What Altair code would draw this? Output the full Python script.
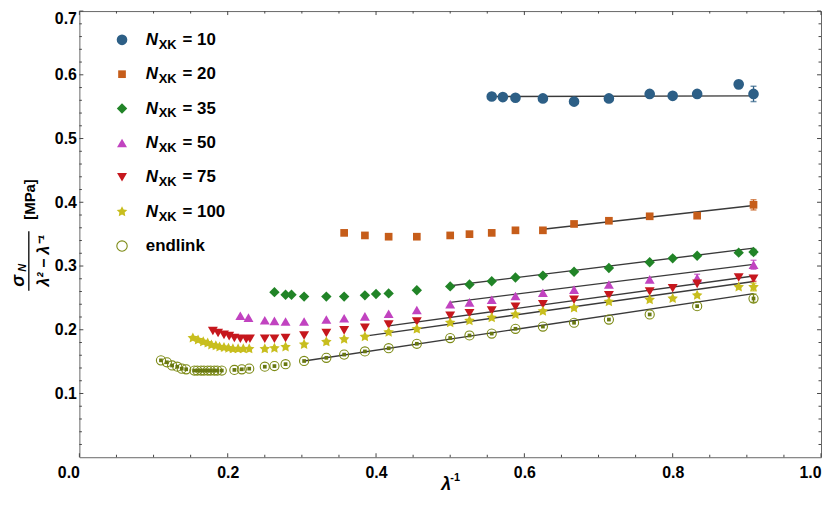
import altair as alt
import pandas as pd

# ---------------- data ----------------
series_names = ["N10", "N20", "N35", "N50", "N75", "N100", "endlink"]
legend_numbers = ["= 10", "= 20", "= 35", "= 50", "= 75", "= 100"]
colors = ["#2d5f86", "#c65d1a", "#218427", "#c143c0", "#c6171d", "#c8be1e", "#7c8a14"]

n10_x = [0.556, 0.571, 0.588, 0.625, 0.667, 0.714, 0.769, 0.800, 0.833, 0.889, 0.909]
n10_y = [0.566, 0.565, 0.564, 0.563, 0.558, 0.563, 0.570, 0.567, 0.570, 0.585, 0.570]

n20_x = [0.357, 0.385, 0.417, 0.455, 0.500, 0.526, 0.556, 0.588, 0.625, 0.667, 0.714, 0.769, 0.833, 0.909]
n20_y = [0.352, 0.348, 0.346, 0.346, 0.348, 0.350, 0.352, 0.356, 0.356, 0.366, 0.371, 0.378, 0.379, 0.396]

n35_x = [0.263, 0.278, 0.286, 0.303, 0.333, 0.357, 0.385, 0.400, 0.417, 0.455, 0.500, 0.526, 0.556,
         0.588, 0.625, 0.667, 0.714, 0.769, 0.800, 0.833, 0.889, 0.909]
n35_y = [0.259, 0.255, 0.255, 0.252, 0.252, 0.252, 0.254, 0.256, 0.257, 0.262, 0.268, 0.271, 0.276,
         0.282, 0.285, 0.291, 0.297, 0.306, 0.312, 0.316, 0.321, 0.322]

n50_x = [0.217, 0.228, 0.250, 0.263, 0.278, 0.303, 0.333, 0.357, 0.385, 0.417, 0.455, 0.500, 0.526,
         0.556, 0.588, 0.625, 0.667, 0.714, 0.769, 0.833, 0.909]
n50_y = [0.222, 0.219, 0.215, 0.214, 0.213, 0.213, 0.216, 0.218, 0.221, 0.225, 0.231, 0.240, 0.243,
         0.247, 0.253, 0.258, 0.263, 0.271, 0.279, 0.281, 0.302]

n75_x = [0.180, 0.187, 0.195, 0.202, 0.209, 0.217, 0.225, 0.230, 0.250, 0.263, 0.278, 0.303, 0.333,
         0.357, 0.385, 0.417, 0.455, 0.500, 0.526, 0.556, 0.588, 0.625, 0.667, 0.714, 0.769, 0.800,
         0.833, 0.889, 0.909]
n75_y = [0.198, 0.195, 0.192, 0.190, 0.187, 0.186, 0.185, 0.186, 0.186, 0.186, 0.187, 0.191, 0.195,
         0.199, 0.203, 0.208, 0.213, 0.222, 0.226, 0.230, 0.236, 0.240, 0.247, 0.254, 0.260, 0.265,
         0.272, 0.282, 0.280]

n100_x = [0.153, 0.160, 0.167, 0.173, 0.178, 0.184, 0.189, 0.195, 0.201, 0.207, 0.214, 0.221, 0.229,
          0.250, 0.263, 0.278, 0.303, 0.333, 0.357, 0.385, 0.417, 0.455, 0.500, 0.526, 0.556, 0.588,
          0.625, 0.667, 0.714, 0.769, 0.800, 0.833, 0.889, 0.909]
n100_y = [0.187, 0.184, 0.181, 0.179, 0.176, 0.175, 0.173, 0.172, 0.171, 0.170, 0.170, 0.170, 0.170,
          0.170, 0.171, 0.173, 0.177, 0.181, 0.185, 0.189, 0.196, 0.201, 0.211, 0.214, 0.219, 0.224,
          0.229, 0.234, 0.244, 0.247, 0.249, 0.254, 0.267, 0.267]

endlink_x = [0.110, 0.118, 0.125, 0.132, 0.138, 0.144, 0.155, 0.159, 0.164, 0.168, 0.173, 0.177, 0.182,
             0.186, 0.192, 0.209, 0.219, 0.229, 0.250, 0.263, 0.278, 0.303, 0.333, 0.357, 0.385, 0.417,
             0.455, 0.500, 0.526, 0.556, 0.588, 0.625, 0.667, 0.714, 0.769, 0.833, 0.909]
endlink_y = [0.152, 0.149, 0.144, 0.142, 0.139, 0.138, 0.136, 0.136, 0.136, 0.136, 0.136, 0.136, 0.136,
             0.136, 0.136, 0.137, 0.138, 0.139, 0.142, 0.143, 0.146, 0.151, 0.156, 0.161, 0.166, 0.171,
             0.178, 0.187, 0.191, 0.194, 0.2015, 0.205, 0.211, 0.216, 0.224, 0.237, 0.249]

# linear fits (start / end)
fit_series = series_names
fit_x0 = [0.556, 0.625, 0.500, 0.500, 0.417, 0.385, 0.303]
fit_y0 = [0.566, 0.3576, 0.269, 0.243, 0.206, 0.190, 0.151]
fit_x1 = [0.909, 0.909, 0.909, 0.909, 0.909, 0.909, 0.909]
fit_y1 = [0.567, 0.395, 0.328, 0.3025, 0.2844, 0.2758, 0.2566]

# visible error bars
err_series = ["N10", "N10", "N20", "N35", "N50", "N50", "N75", "N100", "endlink"]
err_x = [0.889, 0.909, 0.909, 0.909, 0.833, 0.909, 0.909, 0.909, 0.909]
err_lo = [0.580, 0.558, 0.388, 0.318, 0.276, 0.295, 0.276, 0.261, 0.243]
err_hi = [0.591, 0.582, 0.404, 0.326, 0.287, 0.309, 0.284, 0.273, 0.256]

x_major = [0.0, 0.2, 0.4, 0.6, 0.8, 1.0]
x_minor = [0.05, 0.1, 0.15, 0.25, 0.3, 0.35, 0.45, 0.5, 0.55, 0.65, 0.7, 0.75, 0.85, 0.9, 0.95]
y_major = [0.1, 0.2, 0.3, 0.4, 0.5, 0.6, 0.7]
y_minor = [0.02, 0.04, 0.06, 0.08, 0.12, 0.14, 0.16, 0.18, 0.22, 0.24, 0.26, 0.28, 0.32, 0.34, 0.36,
           0.38, 0.42, 0.44, 0.46, 0.48, 0.52, 0.54, 0.56, 0.58, 0.62, 0.64, 0.66, 0.68]

# ---------------- layout ----------------
W, H = 748, 450
FONT = "Liberation Sans"
STAR = ("M0,-1L0.294,-0.405L0.951,-0.309L0.476,0.155L0.588,0.809L0,0.5L-0.588,0.809"
        "L-0.476,0.155L-0.951,-0.309L-0.294,-0.405Z")
shapes = ["circle", "square", "diamond", "triangle-up", "triangle-down", STAR]
sizes = [115, 60, 110, 100, 100, 125]

series_xy = [(n10_x, n10_y), (n20_x, n20_y), (n35_x, n35_y), (n50_x, n50_y),
             (n75_x, n75_y), (n100_x, n100_y), (endlink_x, endlink_y)]
rows = []
for name, (xs, ys) in zip(series_names, series_xy):
    for a, b in zip(xs, ys):
        rows.append({"series": name, "x": a, "y": b})
df = pd.DataFrame(rows)

fit_df = pd.DataFrame({"series": fit_series, "x0": fit_x0, "y0": fit_y0, "x1": fit_x1, "y1": fit_y1})
err_df = pd.DataFrame({"series": err_series, "x": err_x, "lo": err_lo, "hi": err_hi})

xscale = alt.Scale(domain=[0, 1], nice=False, zero=False)
yscale = alt.Scale(domain=[0, 0.7], nice=False, zero=False)
cscale = alt.Scale(domain=series_names, range=colors)

xaxis = alt.Axis(values=x_major, format=".1f", labelFont=FONT, labelFontSize=16, labelFontWeight="bold",
                 labelColor="black", ticks=False, tickSize=0, domain=False, grid=False, title=None,
                 labelPadding=7, labelFlush=False,
                 labelAlign={"condition": {"test": "datum.value <= 0 || datum.value >= 1", "value": "right"},
                             "value": "center"})
yaxis = alt.Axis(values=y_major, format=".1f", labelFont=FONT, labelFontSize=16, labelFontWeight="bold",
                 labelColor="black", ticks=False, tickSize=0, domain=False, grid=False, title=None,
                 labelPadding=3, labelFlush=True)

X = lambda f: alt.X(f, scale=xscale, axis=xaxis)
Y = lambda f: alt.Y(f, scale=yscale, axis=yaxis)
COL = alt.Color("series:N", scale=cscale, legend=None)

fits = alt.Chart(fit_df).mark_rule(color="#3a3a3a", strokeWidth=1.4).encode(
    x=X("x0:Q"), y=Y("y0:Q"), x2="x1:Q", y2="y1:Q")

err_bars = alt.Chart(err_df).mark_rule(strokeWidth=1.3).encode(
    x=X("x:Q"), y=Y("lo:Q"), y2="hi:Q", color=COL)
err_lo_caps = alt.Chart(err_df).mark_tick(orient="horizontal", size=6, thickness=1.5).encode(
    x=X("x:Q"), y=Y("lo:Q"), color=COL)
err_hi_caps = alt.Chart(err_df).mark_tick(orient="horizontal", size=6, thickness=1.5).encode(
    x=X("x:Q"), y=Y("hi:Q"), color=COL)

point_layers = []
for name, shp, sz in zip(series_names[:6], shapes, sizes):
    point_layers.append(
        alt.Chart(df).transform_filter(alt.datum.series == name)
        .mark_point(shape=shp, size=sz, filled=True, opacity=1, strokeWidth=0)
        .encode(x=X("x:Q"), y=Y("y:Q"), color=COL)
    )
end_circles = (alt.Chart(df).transform_filter(alt.datum.series == "endlink")
               .mark_point(shape="circle", size=85, filled=False, opacity=1, strokeWidth=1.1)
               .encode(x=X("x:Q"), y=Y("y:Q"), color=COL))
end_inner = (alt.Chart(df).transform_filter(alt.datum.series == "endlink")
             .mark_point(shape="square", size=14, filled=True, opacity=1, strokeWidth=0, color="#687810")
             .encode(x=X("x:Q"), y=Y("y:Q")))

TICK_COL = "#444444"
xmaj = pd.DataFrame({"v": x_major})
xmin = pd.DataFrame({"v": x_minor})
ymaj = pd.DataFrame({"v": y_major})
ymin = pd.DataFrame({"v": y_minor})
tick_layers = [
    alt.Chart(xmaj).mark_rule(color=TICK_COL).encode(x=X("v:Q"), y=alt.value(H), y2=alt.value(H - 4)),
    alt.Chart(xmaj).mark_rule(color=TICK_COL).encode(x=X("v:Q"), y=alt.value(0), y2=alt.value(4)),
    alt.Chart(xmin).mark_rule(color=TICK_COL).encode(x=X("v:Q"), y=alt.value(H), y2=alt.value(H - 2.5)),
    alt.Chart(xmin).mark_rule(color=TICK_COL).encode(x=X("v:Q"), y=alt.value(0), y2=alt.value(2.5)),
    alt.Chart(ymaj).mark_rule(color=TICK_COL).encode(y=Y("v:Q"), x=alt.value(0), x2=alt.value(4)),
    alt.Chart(ymaj).mark_rule(color=TICK_COL).encode(y=Y("v:Q"), x=alt.value(W), x2=alt.value(W - 4)),
    alt.Chart(ymin).mark_rule(color=TICK_COL).encode(y=Y("v:Q"), x=alt.value(0), x2=alt.value(2.5)),
    alt.Chart(ymin).mark_rule(color=TICK_COL).encode(y=Y("v:Q"), x=alt.value(W), x2=alt.value(W - 2.5)),
]

main = alt.layer(*tick_layers, fits, err_bars, err_lo_caps, err_hi_caps, *point_layers, end_circles, end_inner)

# ---------------- legend & titles ----------------
leg_df = pd.DataFrame({
    "series": series_names,
    "nsym": ["N"] * 6 + [""],
    "sub": ["XK"] * 6 + [""],
    "rest": legend_numbers + [""],
    "plain": [""] * 6 + ["endlink"],
})
LY = alt.Y("series:N", scale=alt.Scale(domain=series_names, range=[29, 237], padding=0), axis=None)

leg_layers = []
for name, shp, sz in zip(series_names[:6], shapes, sizes):
    leg_layers.append(
        alt.Chart(leg_df).transform_filter(alt.datum.series == name)
        .mark_point(shape=shp, size=sz, filled=True, opacity=1, strokeWidth=0)
        .encode(x=alt.value(43), y=LY, color=COL)
    )
leg_layers.append(
    alt.Chart(leg_df).transform_filter(alt.datum.series == "endlink")
    .mark_point(shape="circle", size=110, filled=False, opacity=1, strokeWidth=1.1)
    .encode(x=alt.value(43), y=LY, color=COL)
)
txt = dict(font=FONT, fontWeight="bold", color="black", align="left", baseline="middle")
leg_layers += [
    alt.Chart(leg_df).mark_text(fontSize=17, fontStyle="italic", **txt).encode(
        x=alt.value(67), y=LY, text="nsym:N"),
    alt.Chart(leg_df).mark_text(fontSize=13, dy=5, **txt).encode(
        x=alt.value(80), y=LY, text="sub:N"),
    alt.Chart(leg_df).mark_text(fontSize=17, **txt).encode(
        x=alt.value(104), y=LY, text="rest:N"),
    alt.Chart(leg_df).mark_text(fontSize=17, **txt).encode(
        x=alt.value(67), y=LY, text="plain:N"),
]

def label(s, x, y, size, angle=0, style="normal"):
    return alt.Chart(pd.DataFrame({"t": [s]})).mark_text(
        font=FONT, fontWeight="bold", fontStyle=style, fontSize=size, color="black",
        align="center", baseline="middle", angle=angle).encode(
        text="t:N", x=alt.value(x), y=alt.value(y))

title_layers = [
    label("σ", -61, 272, 18, 270, "italic"),
    label("N", -57, 259, 11, 270, "italic"),
    alt.Chart(pd.DataFrame({"t": [0]})).mark_rule(color="black", strokeWidth=1.3).encode(
        x=alt.value(-51), y=alt.value(222), y2=alt.value(282)),
    label("λ² − λ⁻¹", -36, 252, 16, 270, "italic"),
    label("[MPa]", -50, 190, 15, 270),
    label("λ", 370, 478, 18, 0, "italic"),
    label("-1", 379, 471, 11, 0),
]

overlay = alt.layer(*leg_layers, *title_layers)

chart = (
    alt.layer(main, overlay)
    .resolve_scale(y="independent")
    .properties(width=W, height=H, autosize=alt.AutoSizeParams(type="none"),
                padding={"left": 72, "top": 1, "right": 1, "bottom": 36})
    .configure_view(stroke="#666666", strokeWidth=1)
)

chart.save("out.html", embed_options={"renderer": "svg", "actions": False})
